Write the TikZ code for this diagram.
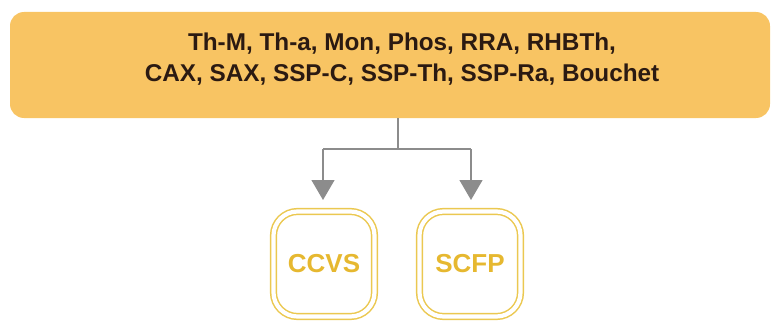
\documentclass[tikz,border=0pt]{standalone}
\usepackage{fontspec}
\setmainfont{Liberation Sans}
\usetikzlibrary{arrows.meta}
\definecolor{bandfill}{HTML}{F8C463}
\definecolor{bandtext}{HTML}{2B1A12}
\definecolor{goldline}{HTML}{EBC850}
\definecolor{goldtext}{HTML}{E6B830}
\definecolor{linkgray}{HTML}{8C8C8C}
\tikzset{
  band/.style={fill=bandfill, draw=none, rounded corners=14pt, minimum width=760pt, minimum height=106pt, inner sep=0pt},
  bandlabel/.style={text=bandtext, font=\bfseries\fontsize{24.3}{31}\selectfont, align=center},
  outcome/.style={draw=goldline, line width=1.5pt, double=white, double distance=4.2pt, rounded corners=24pt, minimum width=101pt, minimum height=105pt, inner sep=0pt, text=goldtext, font=\bfseries\fontsize{26}{28}\selectfont},
  link/.style={draw=linkgray, line width=1.3pt},
  linkarrow/.style={link, -{Triangle[length=20pt,width=23pt]}}
}
\begin{document}
\begin{tikzpicture}[x=1pt,y=1pt]
  \useasboundingbox (0,0) rectangle (776,-329);
  \node[band] (top) at (390,-65) {};
  \node[bandlabel] (toptext) at (402,-59) {Th-M, Th-a, Mon, Phos, RRA, RHBTh,\\CAX, SAX, SSP-C, SSP-Th, SSP-Ra, Bouchet};
  \node[outcome] (ccvs) at (324,-264) {CCVS};
  \node[outcome] (scfp) at (470,-264) {SCFP};
  \coordinate (split) at (398,-149);
  \coordinate (ltop) at (323,-149);
  \coordinate (rtop) at (471,-149);
  \coordinate (ltip) at (323,-200);
  \coordinate (rtip) at (471,-200);
  \draw[link] (top.south -| split) -- (split);
  \draw[link] (ltop) -- (rtop);
  \draw[linkarrow] (ltop) -- (ltip);
  \draw[linkarrow] (rtop) -- (rtip);
\end{tikzpicture}
\end{document}
